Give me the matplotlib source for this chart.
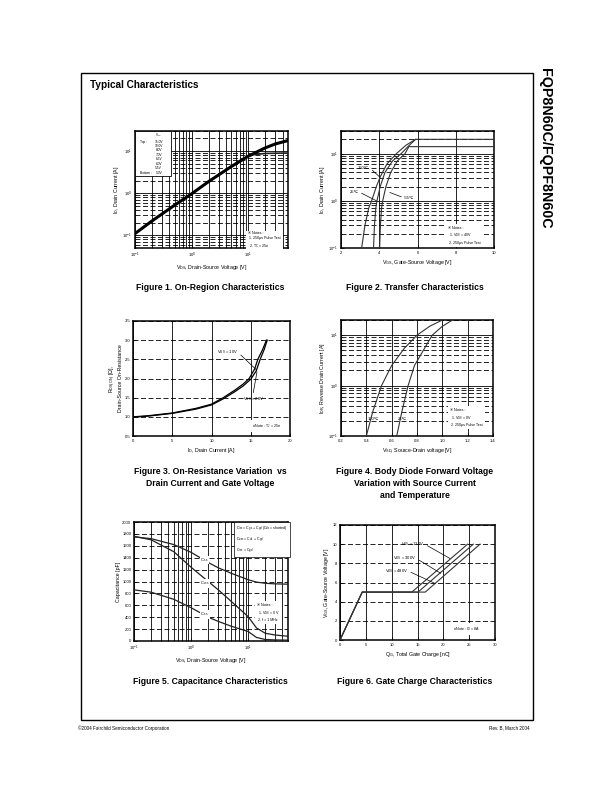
import matplotlib
matplotlib.use("Agg")
import matplotlib.pyplot as plt
from matplotlib.patches import Rectangle
from matplotlib.ticker import NullFormatter, MultipleLocator

plt.rcParams["font.family"] = ["Liberation Sans", "DejaVu Sans", "Noto Sans CJK JP"]
plt.rcParams["mathtext.default"] = "regular"

# ---- data ----
# Figure 1: on-region characteristics
f1_vds = [0.1, 0.2, 0.5, 1, 2, 5, 10, 20, 30, 50]
f1_id_hi = [0.11, 0.22, 0.52, 0.97, 1.9, 4.3, 7.6, 12.0, 14.8, 17.8]
f1_vds_lo = [0.1, 0.2, 0.5, 1, 2, 5, 8, 12, 20, 50]
f1_id_lo = [0.11, 0.22, 0.52, 0.97, 1.9, 4.3, 6.6, 8.2, 8.8, 9.0]
f1_vgs = ["15.0V", "10.0V", "8.0V", "7.0V", "6.5V", "6.0V", "5.5V", "5.0V"]

# Figure 2: transfer characteristics
f2_vgs_150 = [3.08, 3.25, 3.45, 3.6, 3.85, 4.05, 4.4, 4.9, 5.4, 5.9, 10]
f2_id_150 = [0.1, 0.3, 0.7, 1.0, 2.0, 3.2, 6.0, 10, 15, 20, 20]
f2_vgs_25 = [3.7, 3.75, 3.82, 3.88, 4.05, 4.3, 4.7, 5.15, 5.5, 5.9]
f2_id_25 = [0.1, 0.3, 0.7, 1.0, 2.0, 4.0, 7.0, 10, 14, 20]
f2_vgs_m55 = [4.02, 4.06, 4.12, 4.18, 4.35, 4.6, 4.95, 5.35, 5.55, 10]
f2_id_m55 = [0.1, 0.3, 0.7, 1.0, 2.0, 4.0, 7.0, 10, 14, 14]

# Figure 3: on-resistance vs drain current
f3_id_10 = [0, 2, 5, 8, 10, 11.5, 13, 14, 14.8, 15.5, 15.9, 16.5, 17]
f3_r_10 = [1.0, 1.03, 1.1, 1.22, 1.33, 1.5, 1.7, 1.85, 2.0, 2.25, 2.5, 2.75, 3.0]
f3_id_20 = [0, 2, 5, 8, 10, 11.5, 13, 14, 15, 15.7, 16.2, 16.7, 17.1]
f3_r_20 = [0.99, 1.02, 1.09, 1.2, 1.31, 1.47, 1.66, 1.8, 1.98, 2.2, 2.5, 2.75, 3.0]

# Figure 4: body diode forward voltage
f4_vsd_150 = [0.4, 0.45, 0.52, 0.6, 0.7, 0.8, 0.9, 1.0]
f4_idr_150 = [0.1, 0.3, 1.0, 2.5, 5.5, 10, 15, 20]
f4_vsd_25 = [0.64, 0.68, 0.73, 0.78, 0.85, 0.92, 1.0, 1.08]
f4_idr_25 = [0.1, 0.3, 1.0, 2.5, 5.0, 10, 15, 20]

# Figure 5: capacitance characteristics
f5_vds = [0.1, 0.2, 0.5, 1, 2, 3, 5, 10, 14, 20, 30, 50]
f5_ciss = [1750, 1720, 1620, 1490, 1320, 1230, 1140, 1030, 990, 970, 960, 955]
f5_coss = [1760, 1700, 1500, 1240, 1000, 860, 670, 410, 220, 130, 100, 80]
f5_crss = [860, 820, 700, 560, 400, 330, 250, 160, 60, 25, 18, 15]

# Figure 6: gate charge characteristics
f6_qg_120 = [0, 4.3, 13.9, 24.7]
f6_qg_300 = [0, 4.3, 15.1, 25.8]
f6_qg_480 = [0, 4.3, 16.5, 27.1]
f6_vgs = [0, 5, 5, 10]

W, H = 612, 792
fig = plt.figure(figsize=(W / 100, H / 100), dpi=100)

DASH = (0, (6, 3))
NOTE = "\u203b "


def px_axes(x0, y0, x1, y1):
    return fig.add_axes([x0 / W, 1 - y1 / H, (x1 - x0) / W, (y1 - y0) / H])


def style(ax):
    for s in ax.spines.values():
        s.set_linewidth(1.1)
    ax.tick_params(which="both", direction="in", labelsize=3, length=2, width=0.5, pad=2)
    ax.tick_params(which="minor", length=1)
    ax.xaxis.set_minor_formatter(NullFormatter())
    ax.yaxis.set_minor_formatter(NullFormatter())


def note(ax, x, y, txt, edge="none"):
    ax.text(x, y, txt, transform=ax.transAxes, fontsize=2.6, ha="left", va="top",
            linespacing=1.4, zorder=5,
            bbox=dict(facecolor="white", edgecolor=edge, lw=0.5, pad=1.5))


def caption(xc, y, lines):
    for i, t in enumerate(lines):
        fig.text(xc / W, 1 - (y + 12 * i) / H, t, ha="center", va="center",
                 fontsize=6.2, fontweight="bold",
                 family=["Liberation Sans Narrow", "Liberation Sans"])


# page frame and headers
fig.add_artist(Rectangle((81 / W, 1 - 720 / H), (533 - 81) / W, (720 - 73) / H,
                         fill=False, lw=1, ec="black", transform=fig.transFigure))
fig.text(90 / W, 1 - 85 / H, "Typical Characteristics", fontsize=7.2, fontweight="bold",
         ha="left", va="center")
fig.text(545 / W, 1 - 148 / H, "FQP8N60C/FQPF8N60C", fontsize=10.3, fontweight="bold",
         rotation=-90, ha="center", va="center")
fig.text(78 / W, 1 - 728 / H, "\u00a92004 Fairchild Semiconductor Corporation", fontsize=3.3,
         ha="left", va="center")
fig.text(530 / W, 1 - 728 / H, "Rev. B, March 2004", fontsize=3.3, ha="right", va="center")

# ---- Figure 1 ----
ax1 = px_axes(135, 131, 288, 248)
ax1.set_xscale("log")
ax1.set_yscale("log")
ax1.set_xlim(0.1, 50)
ax1.set_ylim(0.05, 30)
ax1.xaxis.grid(True, which="both", ls="-", color="k", lw=0.6)
ax1.yaxis.grid(True, which="major", ls="-", color="k", lw=0.6)
ax1.yaxis.grid(True, which="minor", ls=DASH, color="k", lw=0.6)
ax1.plot(f1_vds_lo, f1_id_lo, color="#222222", lw=1.2, zorder=3)
ax1.plot(f1_vds, f1_id_hi, color="black", lw=2.2, zorder=3)
style(ax1)
ax1.set_xlabel("V$_{DS}$, Drain-Source Voltage [V]", fontsize=3.8, labelpad=2)
ax1.set_ylabel("I$_D$, Drain Current [A]", fontsize=3.8, labelpad=1)
ax1.add_patch(Rectangle((0, 0.615), 0.235, 0.385, transform=ax1.transAxes,
                        fc="white", ec="black", lw=0.6, zorder=4))
ax1.text(0.155, 0.995, "V$_{GS}$", transform=ax1.transAxes, fontsize=2.3, ha="center",
         va="top", zorder=5)
for i, v in enumerate(f1_vgs):
    ax1.text(0.155, 0.91 - 0.038 * i, v, transform=ax1.transAxes, fontsize=2.3,
             ha="center", va="center", zorder=5)
ax1.text(0.03, 0.91, "Top :", transform=ax1.transAxes, fontsize=2.3, va="center", zorder=5)
ax1.text(0.03, 0.91 - 0.038 * 7, "Bottom :", transform=ax1.transAxes, fontsize=2.3,
         va="center", zorder=5)
note(ax1, 0.74, 0.145, NOTE + "Notes :\n 1. 250\u03bcs Pulse Test\n 2. T$_C$ = 25\u2103")

# ---- Figure 2 ----
ax2 = px_axes(341, 131, 494, 248)
ax2.set_yscale("log")
ax2.set_xlim(2, 10)
ax2.set_ylim(0.1, 30)
ax2.xaxis.set_major_locator(MultipleLocator(2))
ax2.xaxis.grid(True, which="major", ls="-", color="k", lw=0.6)
ax2.yaxis.grid(True, which="major", ls="-", color="k", lw=0.6)
ax2.yaxis.grid(True, which="minor", ls=DASH, color="k", lw=0.6)
ax2.plot(f2_vgs_150, f2_id_150, color="#333333", lw=0.8, zorder=3)
ax2.plot(f2_vgs_25, f2_id_25, color="#333333", lw=0.8, zorder=3)
ax2.plot(f2_vgs_m55, f2_id_m55, color="#333333", lw=0.8, zorder=3)
style(ax2)
ax2.set_xlabel("V$_{GS}$, Gate-Source Voltage [V]", fontsize=3.8, labelpad=2)
ax2.set_ylabel("I$_D$, Drain Current [A]", fontsize=3.8, labelpad=1)
arrow = dict(arrowstyle="-", lw=0.5, color="black", shrinkA=0, shrinkB=0, relpos=(1, 0.5))
ax2.annotate("150\u2103", xy=(4.02, 3.2), xytext=(2.9, 5.0), fontsize=3, va="center",
             arrowprops=arrow, zorder=5)
ax2.annotate("25\u2103", xy=(3.85, 1.0), xytext=(2.45, 1.55), fontsize=3, va="center",
             arrowprops=arrow, zorder=5)
ax2.annotate("-55\u2103", xy=(4.55, 1.5), xytext=(5.3, 1.15), fontsize=3, va="center",
             arrowprops=dict(arrowstyle="-", lw=0.5, color="black", shrinkA=0, shrinkB=0,
                             relpos=(0, 0.5)), zorder=5)
note(ax2, 0.7, 0.19, NOTE + "Notes :\n 1. V$_{DS}$ = 40V\n 2. 250\u03bcs Pulse Test")

# ---- Figure 3 ----
ax3 = px_axes(133, 321, 290, 436)
ax3.set_xlim(0, 20)
ax3.set_ylim(0.5, 3.5)
ax3.xaxis.set_major_locator(MultipleLocator(5))
ax3.yaxis.set_major_locator(MultipleLocator(0.5))
ax3.yaxis.set_major_formatter(matplotlib.ticker.FormatStrFormatter("%.1f"))
ax3.xaxis.grid(True, which="major", ls="-", color="k", lw=0.6)
ax3.yaxis.grid(True, which="major", ls=DASH, color="k", lw=0.6)
ax3.plot(f3_id_10, f3_r_10, color="black", lw=0.9, zorder=3)
ax3.plot(f3_id_20, f3_r_20, color="black", lw=0.9, zorder=3)
style(ax3)
ax3.set_xlabel("I$_D$, Drain Current [A]", fontsize=3.8, labelpad=2)
ax3.set_ylabel("R$_{DS(ON)}$ [\u03a9],\nDrain-Source On-Resistance", fontsize=3.8, labelpad=1,
               linespacing=1.0)
ax3.annotate("V$_{GS}$ = 10V", xy=(15.75, 2.22), xytext=(10.7, 2.68), fontsize=3,
             va="center", arrowprops=arrow, zorder=5)
ax3.annotate("V$_{GS}$ = 20V", xy=(15.8, 2.18), xytext=(14.05, 1.46), fontsize=3,
             va="center", arrowprops=dict(arrowstyle="-", lw=0.5, color="black", shrinkA=0,
                                          shrinkB=0, relpos=(0.45, 1)), zorder=5)
note(ax3, 0.76, 0.12, NOTE + "Note : T$_J$ = 25\u2103")

# ---- Figure 4 ----
ax4 = px_axes(341, 320, 493, 436)
ax4.set_yscale("log")
ax4.set_xlim(0.2, 1.4)
ax4.set_ylim(0.1, 20)
ax4.xaxis.set_major_locator(MultipleLocator(0.2))
ax4.xaxis.grid(True, which="major", ls="-", color="k", lw=0.6)
ax4.yaxis.grid(True, which="major", ls="-", color="k", lw=0.6)
ax4.yaxis.grid(True, which="minor", ls=DASH, color="k", lw=0.6)
ax4.plot(f4_vsd_150, f4_idr_150, color="#333333", lw=0.8, zorder=3)
ax4.plot(f4_vsd_25, f4_idr_25, color="#333333", lw=0.8, zorder=3)
style(ax4)
ax4.set_xlabel("V$_{SD}$, Source-Drain voltage [V]", fontsize=3.8, labelpad=2)
ax4.set_ylabel("I$_{DR}$, Reverse Drain Current [A]", fontsize=3.8, labelpad=1)
ax4.text(0.41, 0.22, "150\u2103", fontsize=3, va="center", zorder=5)
ax4.text(0.65, 0.22, "25\u2103", fontsize=3, va="center", zorder=5)
note(ax4, 0.72, 0.24, NOTE + "Notes :\n 1. V$_{GS}$ = 0V\n 2. 250\u03bcs Pulse Test")

# ---- Figure 5 ----
ax5 = px_axes(134, 522, 288, 641)
ax5.set_xscale("log")
ax5.set_xlim(0.1, 50)
ax5.set_ylim(0, 2000)
ax5.yaxis.set_major_locator(MultipleLocator(200))
ax5.xaxis.grid(True, which="both", ls="-", color="k", lw=0.6)
ax5.yaxis.grid(True, which="major", ls=DASH, color="k", lw=0.6)
ax5.plot(f5_vds, f5_ciss, color="#222222", lw=0.9, zorder=3)
ax5.plot(f5_vds, f5_coss, color="#222222", lw=0.9, zorder=3)
ax5.plot(f5_vds, f5_crss, color="#222222", lw=0.9, zorder=3)
style(ax5)
ax5.set_xlabel("V$_{DS}$, Drain-Source Voltage [V]", fontsize=3.8, labelpad=2)
ax5.set_ylabel("Capacitance [pF]", fontsize=3.8, labelpad=1)
ax5.text(1.46, 1361, "C$_{iss}$", fontsize=3, va="center", zorder=5,
         bbox=dict(fc="white", ec="none", pad=0.3))
ax5.text(1.46, 970, "C$_{oss}$", fontsize=3, va="center", zorder=5,
         bbox=dict(fc="white", ec="none", pad=0.3))
ax5.text(1.46, 449, "C$_{rss}$", fontsize=3, va="center", zorder=5,
         bbox=dict(fc="white", ec="none", pad=0.3))
note(ax5, 0.665, 0.985, "C$_{iss}$ = C$_{gs}$ + C$_{gd}$ (C$_{ds}$ = shorted)\n"
     "C$_{oss}$ = C$_{ds}$ + C$_{gd}$\nC$_{rss}$ = C$_{gd}$", edge="black")
note(ax5, 0.8, 0.32, NOTE + "Notes :\n 1. V$_{GS}$ = 0 V\n 2. f = 1 MHz")

# ---- Figure 6 ----
ax6 = px_axes(340, 525, 495, 640)
ax6.set_xlim(0, 30)
ax6.set_ylim(0, 12)
ax6.xaxis.set_major_locator(MultipleLocator(5))
ax6.yaxis.set_major_locator(MultipleLocator(2))
ax6.xaxis.grid(True, which="major", ls="-", color="k", lw=0.6)
ax6.yaxis.grid(True, which="major", ls=DASH, color="k", lw=0.6)
ax6.plot(f6_qg_120, f6_vgs, color="#333333", lw=0.8, zorder=3)
ax6.plot(f6_qg_300, f6_vgs, color="#333333", lw=0.8, zorder=3)
ax6.plot(f6_qg_480, f6_vgs, color="#333333", lw=0.8, zorder=3)
style(ax6)
ax6.set_xlabel("Q$_G$, Total Gate Charge [nC]", fontsize=3.8, labelpad=2)
ax6.set_ylabel("V$_{GS}$, Gate-Source Voltage [V]", fontsize=3.8, labelpad=1)
ax6.annotate("V$_{DS}$ = 120V", xy=(21.3, 8.5), xytext=(11.9, 10.0), fontsize=3,
             va="center", arrowprops=arrow, zorder=5)
ax6.annotate("V$_{DS}$ = 300V", xy=(19.5, 6.96), xytext=(10.3, 8.5), fontsize=3,
             va="center", arrowprops=arrow, zorder=5)
ax6.annotate("V$_{DS}$ = 480V", xy=(18.4, 5.9), xytext=(8.7, 7.2), fontsize=3,
             va="center", arrowprops=arrow, zorder=5)
note(ax6, 0.73, 0.13, NOTE + "Note : I$_D$ = 8A")

# captions
caption(210, 287, ["Figure 1. On-Region Characteristics"])
caption(415, 287, ["Figure 2. Transfer Characteristics"])
caption(210, 471, ["Figure 3. On-Resistance Variation  vs", "Drain Current and Gate Voltage"])
caption(415, 471, ["Figure 4. Body Diode Forward Voltage", "Variation with Source Current",
                   "and Temperature"])
caption(210, 681, ["Figure 5. Capacitance Characteristics"])
caption(415, 681, ["Figure 6. Gate Charge Characteristics"])

fig.savefig("out.png", dpi=100)
